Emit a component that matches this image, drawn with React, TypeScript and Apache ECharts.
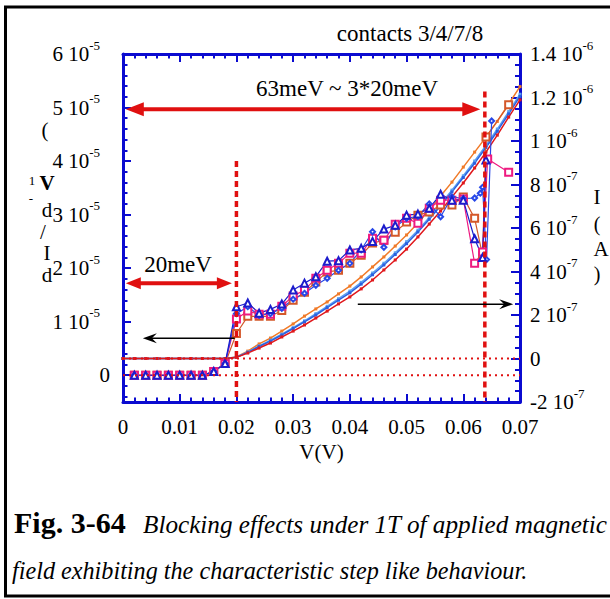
import React, { useEffect, useRef } from "react";
import * as echarts from "echarts";

const SERIF = "Liberation Serif, Times New Roman, Times, serif";
const AXIS_BLUE = "#0b0bd0";
const STEP_RED = "#e01010";

// Bias voltage (V) of the I–V sweeps
const ivVoltage = [
  0, 0.002, 0.004, 0.006, 0.008, 0.01, 0.012, 0.014, 0.016, 0.018, 0.02, 0.022,
  0.024, 0.026, 0.028, 0.03, 0.032, 0.034, 0.036, 0.038, 0.04, 0.042, 0.044,
  0.046, 0.048, 0.05, 0.052, 0.054, 0.056, 0.058, 0.06, 0.062, 0.064, 0.066,
  0.068, 0.07,
];
// Current, in units of 1e-7 A
const ivOrange = [
  0, 0, 0, 0, 0, 0, 0, 0, 0, 0, 0.07, 0.34, 0.67, 0.94, 1.26, 1.59, 1.95, 2.28,
  2.6, 2.97, 3.33, 3.75, 4.21, 4.67, 5.17, 5.68, 6.23, 6.83, 7.47, 8.11, 8.8,
  9.49, 10.18, 10.9, 11.7, 12.5,
];
const ivLightBlue = [
  0, 0, 0, 0, 0, 0, 0, 0, 0, 0, 0.06, 0.3, 0.58, 0.84, 1.12, 1.42, 1.73, 2.06,
  2.4, 2.75, 3.1, 3.5, 3.93, 4.38, 4.86, 5.37, 5.9, 6.48, 7.1, 7.74, 8.4, 9.08,
  9.8, 10.55, 11.35, 12.15,
];
const ivBlue = [
  0, 0, 0, 0, 0, 0, 0, 0, 0, 0, 0.06, 0.28, 0.55, 0.8, 1.08, 1.38, 1.68, 2.0,
  2.34, 2.68, 3.02, 3.42, 3.85, 4.3, 4.78, 5.28, 5.82, 6.4, 7.02, 7.66, 8.32,
  8.98, 9.7, 10.45, 11.25, 12.05,
];
const ivRed = [
  0, 0, 0, 0, 0, 0, 0, 0, 0, 0, 0.05, 0.25, 0.48, 0.71, 0.99, 1.26, 1.54, 1.86,
  2.18, 2.51, 2.83, 3.2, 3.61, 4.07, 4.53, 5.03, 5.59, 6.18, 6.78, 7.43, 8.07,
  8.76, 9.49, 10.27, 11.1, 11.89,
];

// Bias voltage (V) of the differential conductance sweeps
const didvVoltage = [
  0.002, 0.004, 0.006, 0.008, 0.01, 0.012, 0.014, 0.016, 0.018, 0.02, 0.022,
  0.024, 0.026, 0.028, 0.03, 0.032, 0.034, 0.036, 0.038, 0.04, 0.042, 0.044,
  0.046, 0.048, 0.05, 0.052, 0.054, 0.056, 0.058, 0.06, 0.062,
];
// dI/dV, in units of 1e-5 1/Ω
const didvTriangle = [
  0, 0, 0, 0, 0, 0, 0, 0.07, 0.22, 1.28, 1.35, 1.16, 1.23, 1.33, 1.59, 1.72,
  1.84, 2.13, 2.14, 2.34, 2.37, 2.5, 2.73, 2.8, 2.99, 3.01, 3.12, 3.38, 3.27,
  3.27, 2.55,
];
const didvTriangleTail = [
  [0.0634, 2.2],
  [0.064, 4.02],
];
const didvDiamond = [
  0, 0, 0, 0, 0, 0, 0, 0.07, 0.22, 1.15, 1.28, 1.12, 1.15, 1.25, 1.42, 1.53,
  1.68, 1.81, 1.96, 2.09, 2.34, 2.68, 2.39, 2.77, 2.93, 2.97, 3.2, 2.96, 3.33,
  3.3, 3.31,
];
const didvDiamondTail = [
  [0.063, 3.4],
  [0.0634, 3.51],
  [0.0641, 2.16],
  [0.065, 4.75],
];
const didvPink = [
  0, 0, 0, 0, 0, 0, 0, 0.07, 0.22, 1.05, 1.2, 1.14, 1.14, 1.29, 1.48, 1.59,
  1.81, 1.96, 2.09, 2.28, 2.28, 2.56, 2.52, 2.82, 2.93, 2.84, 3.12, 3.27, 3.27,
  3.29, 2.09,
];
const didvPinkTail = [
  [0.0634, 2.3],
  [0.0643, 4.04],
  [0.068, 3.79],
];
const didvOrange = [
  0, 0, 0, 0, 0, 0, 0, 0.07, 0.22, 0.78, 1.1, 1.1, 1.1, 1.21, 1.4, 1.55, 1.74,
  1.93, 1.96, 2.09, 2.24, 2.47, 2.52, 2.67, 2.86, 2.99, 3.05, 3.18, 3.18, 3.33,
  2.93,
];
const didvOrangeTail = [
  [0.0634, 2.24],
  [0.064, 4.45],
  [0.068, 5.05],
];

// Tick values for the conductance axis (1e-5 units)
const leftMajorTicks = [0, 1, 2, 3, 4, 5, 6];
const leftMinorTicks = Array.from({ length: 33 }, (_, i) => Math.round((-0.4 + 0.2 * i) * 10) / 10);

// Annotation anchors, in data units (V, dI/dV or I)
const stepEdges = [0.02, 0.0638];
const stepTops = [4.0, 5.3];
const span20 = { from: 0.0005, to: 0.0192, level: 1.72 };
const span63 = { from: 0.0005, to: 0.063, level: 4.97 };
const leftPointer = { from: 0.0197, to: 0.0035, level: 0.69 };
const rightPointer = { from: 0.0414, to: 0.0688, level: 2.5 };

const pairs = (xs: number[], ys: number[]) => xs.map((x, i) => [x, ys[i]]);

function supLabel(mant: string, exp: string, spacer: boolean) {
  return `{a|${mant} 10}{s|${exp}}` + (spacer ? "{g| }" : "");
}

const richLabel = {
  a: { fontSize: 21, fontFamily: SERIF, color: "#000", lineHeight: 31, verticalAlign: "middle" },
  s: { fontSize: 13, fontFamily: SERIF, color: "#000", lineHeight: 13, padding: [0, 0, 18, 0], verticalAlign: "middle" },
  g: { fontSize: 13, width: 10 },
};

function doubleArrow(p1: number[], p2: number[], color: string, width: number, headLen: number, headHalf: number) {
  const dx = p2[0] - p1[0];
  const dy = p2[1] - p1[1];
  const len = Math.hypot(dx, dy);
  const ux = dx / len;
  const uy = dy / len;
  const px = -uy;
  const py = ux;
  const a = [p1[0] + ux * headLen, p1[1] + uy * headLen];
  const b = [p2[0] - ux * headLen, p2[1] - uy * headLen];
  return [
    {
      type: "line",
      z: 100,
      shape: { x1: a[0] - ux * 4, y1: a[1] - uy * 4, x2: b[0] + ux * 4, y2: b[1] + uy * 4 },
      style: { stroke: color, lineWidth: width },
    },
    {
      type: "polygon",
      z: 100,
      shape: { points: [p1, [a[0] + px * headHalf, a[1] + py * headHalf], [a[0] - px * headHalf, a[1] - py * headHalf]] },
      style: { fill: color },
    },
    {
      type: "polygon",
      z: 100,
      shape: { points: [p2, [b[0] + px * headHalf, b[1] + py * headHalf], [b[0] - px * headHalf, b[1] - py * headHalf]] },
      style: { fill: color },
    },
  ];
}

function pointer(p1: number[], p2: number[]) {
  const dx = p2[0] - p1[0];
  const dy = p2[1] - p1[1];
  const len = Math.hypot(dx, dy);
  const ux = dx / len;
  const uy = dy / len;
  const px = -uy;
  const py = ux;
  return [
    {
      type: "line",
      z: 100,
      shape: { x1: p1[0], y1: p1[1], x2: p2[0] - ux * 6, y2: p2[1] - uy * 6 },
      style: { stroke: "#000", lineWidth: 1.5 },
    },
    {
      type: "polygon",
      z: 100,
      shape: {
        points: [
          p2,
          [p2[0] - ux * 14 + px * 5, p2[1] - uy * 14 + py * 5],
          [p2[0] - ux * 9, p2[1] - uy * 9],
          [p2[0] - ux * 14 - px * 5, p2[1] - uy * 14 - py * 5],
        ],
      },
      style: { fill: "#000" },
    },
  ];
}

function text(x: number, y: number, str: string, size: number, opts: any = {}) {
  const align = opts.align || "center";
  return {
    type: "text",
    z: 100,
    x,
    y,
    style: {
      text: str,
      fill: "#000",
      fontSize: size,
      fontFamily: SERIF,
      fontStyle: opts.italic ? "italic" : "normal",
      fontWeight: opts.bold ? "bold" : "normal",
      lineHeight: opts.lineHeight || size,
      align,
      textAlign: align,
      verticalAlign: "middle",
      textVerticalAlign: "middle",
    },
  };
}

export default function App() {
  const ref = useRef<HTMLDivElement>(null);

  useEffect(() => {
    if (!ref.current) return;
    const chart = echarts.init(ref.current, null, { renderer: "svg" });

    const ivSeries = (name: string, values: number[], color: string) => ({
      name,
      type: "line",
      xAxisIndex: 0,
      yAxisIndex: 1,
      data: pairs(ivVoltage, values),
      symbol: "rect",
      symbolSize: 3,
      lineStyle: { color, width: 1.5 },
      itemStyle: { color },
      z: 2,
    });

    const didvSeries = (
      name: string,
      values: number[],
      tail: number[][],
      color: string,
      symbol: string,
      size: number,
      border: number
    ) => ({
      name,
      type: "line",
      xAxisIndex: 0,
      yAxisIndex: 0,
      data: pairs(didvVoltage, values).concat(tail),
      symbol,
      symbolSize: size,
      lineStyle: { color, width: 1.2 },
      itemStyle: { color, borderColor: color, borderWidth: border },
      z: 3,
    });

    const tickCommon = { show: true, inside: true, lineStyle: { color: AXIS_BLUE, width: 2 } };

    chart.setOption({
      animation: false,
      backgroundColor: "#fff",
      grid: { left: 123, right: 90, top: 54, bottom: 197, containLabel: false },
      xAxis: [
        {
          type: "value",
          position: "bottom",
          min: 0,
          max: 0.07,
          interval: 0.01,
          axisLine: { show: true, onZero: false, lineStyle: { color: AXIS_BLUE, width: 3 } },
          axisTick: { ...tickCommon, length: 8 },
          minorTick: { show: true, splitNumber: 5, length: 4.5, lineStyle: { color: AXIS_BLUE, width: 2 } },
          splitLine: { show: false },
          axisLabel: {
            margin: 14,
            fontSize: 21,
            fontFamily: SERIF,
            color: "#000",
            formatter: (v: number) => (v === 0 ? "0" : v.toFixed(2)),
          },
          name: "V(V)",
          nameLocation: "middle",
          nameGap: 38,
          nameTextStyle: { fontSize: 21, fontFamily: SERIF, color: "#000" },
        },
        {
          type: "value",
          position: "top",
          min: 0,
          max: 0.07,
          interval: 0.01,
          axisLine: { show: true, onZero: false, lineStyle: { color: AXIS_BLUE, width: 3 } },
          axisTick: { ...tickCommon, length: 8 },
          minorTick: { show: true, splitNumber: 5, length: 4.5, lineStyle: { color: AXIS_BLUE, width: 2 } },
          splitLine: { show: false },
          axisLabel: { show: false },
        },
      ],
      yAxis: [
        {
          type: "value",
          position: "left",
          min: -0.5,
          max: 6,
          axisLine: { show: true, onZero: false, lineStyle: { color: AXIS_BLUE, width: 3 } },
          axisTick: { ...tickCommon, length: 8, customValues: leftMajorTicks },
          splitLine: { show: false },
          axisLabel: {
            margin: 13,
            customValues: leftMajorTicks,
            formatter: (v: number) => (v === 0 ? "{a|0}" : supLabel(String(Math.round(v)), "-5", true)),
            rich: richLabel,
          },
        },
        {
          type: "value",
          position: "right",
          min: -2,
          max: 14,
          interval: 2,
          axisLine: { show: true, onZero: false, lineStyle: { color: AXIS_BLUE, width: 3 } },
          axisTick: { ...tickCommon, length: 9 },
          minorTick: { show: true, splitNumber: 4, length: 5, lineStyle: { color: AXIS_BLUE, width: 2 } },
          splitLine: { show: false },
          axisLabel: {
            margin: 10,
            formatter: (v: number) => {
              if (v === 0) return "{a|0}";
              if (Math.abs(v) >= 10) return supLabel(String(Math.round(v) / 10), "-6", false);
              return supLabel(String(Math.round(v)), "-7", false);
            },
            rich: richLabel,
          },
        },
        {
          type: "value",
          position: "left",
          min: -0.5,
          max: 6,
          axisLine: { show: false },
          axisTick: { ...tickCommon, length: 4.5, customValues: leftMinorTicks },
          splitLine: { show: false },
          axisLabel: { show: false },
        },
      ],
      series: [
        ivSeries("I orange", ivOrange, "#f07a28"),
        ivSeries("I light blue", ivLightBlue, "#5aa2f2"),
        ivSeries("I blue", ivBlue, "#2a5fe0"),
        ivSeries("I red", ivRed, "#e0181c"),
        didvSeries("dI/dV orange", didvOrange, didvOrangeTail, "#d4582a", "emptyRect", 7, 1.3),
        didvSeries("dI/dV pink", didvPink, didvPinkTail, "#ee1a80", "emptyRect", 7, 2.6),
        didvSeries("dI/dV diamond", didvDiamond, didvDiamondTail, "#2848e8", "emptyDiamond", 5, 1.2),
        didvSeries("dI/dV triangle", didvTriangle, didvTriangleTail, "#1c1ccc", "emptyTriangle", 7, 1.4),
      ],
    });

    const L = (v: number, y: number) => chart.convertToPixel({ seriesIndex: 4 }, [v, y]) as number[];
    const R = (v: number, y: number) => chart.convertToPixel({ seriesIndex: 0 }, [v, y]) as number[];

    const overlay: any[] = [];

    // outer frame of the figure
    overlay.push({
      type: "rect",
      z: 100,
      shape: { x: 5.5, y: 7, width: 620, height: 589 },
      style: { fill: "none", stroke: "#000", lineWidth: 3 },
    });

    // zero lines of both scales
    const l0a = L(0, 0);
    const l0b = L(0.07, 0);
    const r0a = R(0, 0);
    const r0b = R(0.07, 0);
    overlay.push({
      type: "line",
      z: 90,
      shape: { x1: l0a[0], y1: l0a[1], x2: l0b[0], y2: l0b[1] },
      style: { stroke: STEP_RED, lineWidth: 2, lineDash: [2, 4] },
    });
    overlay.push({
      type: "line",
      z: 90,
      shape: { x1: r0a[0], y1: r0a[1], x2: r0b[0], y2: r0b[1] },
      style: { stroke: STEP_RED, lineWidth: 2, lineDash: [2, 4] },
    });

    // step edges
    stepEdges.forEach((v, i) => {
      const top = L(v, stepTops[i]);
      const bottom = L(v, -0.5);
      overlay.push({
        type: "line",
        z: 100,
        shape: { x1: top[0], y1: top[1], x2: bottom[0], y2: bottom[1] },
        style: { stroke: STEP_RED, lineWidth: 3.5, lineDash: [6, 4] },
      });
    });

    overlay.push(...doubleArrow(L(span20.from, span20.level), L(span20.to, span20.level), STEP_RED, 4, 15, 6));
    overlay.push(...doubleArrow(L(span63.from, span63.level), L(span63.to, span63.level), STEP_RED, 4, 18, 7));
    overlay.push(...pointer(L(leftPointer.from, leftPointer.level), L(leftPointer.to, leftPointer.level)));
    overlay.push(...pointer(R(rightPointer.from, rightPointer.level), R(rightPointer.to, rightPointer.level)));

    const t20 = L(0.0097, 2.07);
    overlay.push(text(t20[0], t20[1], "20meV", 23));
    const t63 = L(0.0395, 5.36);
    overlay.push(text(t63[0], t63[1], "63meV ~ 3*20meV", 23));
    overlay.push(text(410, 33, "contacts 3/4/7/8", 23));

    // left axis title glyphs
    overlay.push(text(45, 130, "(", 21));
    overlay.push(text(32, 180, "1", 13));
    overlay.push(text(47, 183, "V", 21, { bold: true }));
    overlay.push(text(31, 198, "-", 13));
    overlay.push(text(47, 210, "d", 21));
    overlay.push(text(43, 232, "/", 21));
    overlay.push(text(47, 253, "I", 21));
    overlay.push(text(47, 275, "d", 21));

    // right axis title glyphs
    overlay.push(text(597, 197, "I", 21));
    overlay.push(text(597, 224, "(", 20));
    overlay.push(text(601, 249, "A", 21));
    overlay.push(text(597, 274, ")", 20));

    // caption
    overlay.push(text(14, 522, "Fig. 3-64", 30, { bold: true, align: "left" }));
    overlay.push(text(143, 524, "Blocking effects under 1T of applied magnetic", 25.2, { italic: true, align: "left" }));
    overlay.push(text(12, 570, "field exhibiting the characteristic step like behaviour.", 24.2, { italic: true, align: "left" }));

    chart.setOption({ graphic: overlay });

    return () => chart.dispose();
  }, []);

  return (
    <div
      ref={ref}
      style={{ position: "fixed", left: 0, top: 0, width: 610, height: 599, background: "#fff" }}
    />
  );
}
